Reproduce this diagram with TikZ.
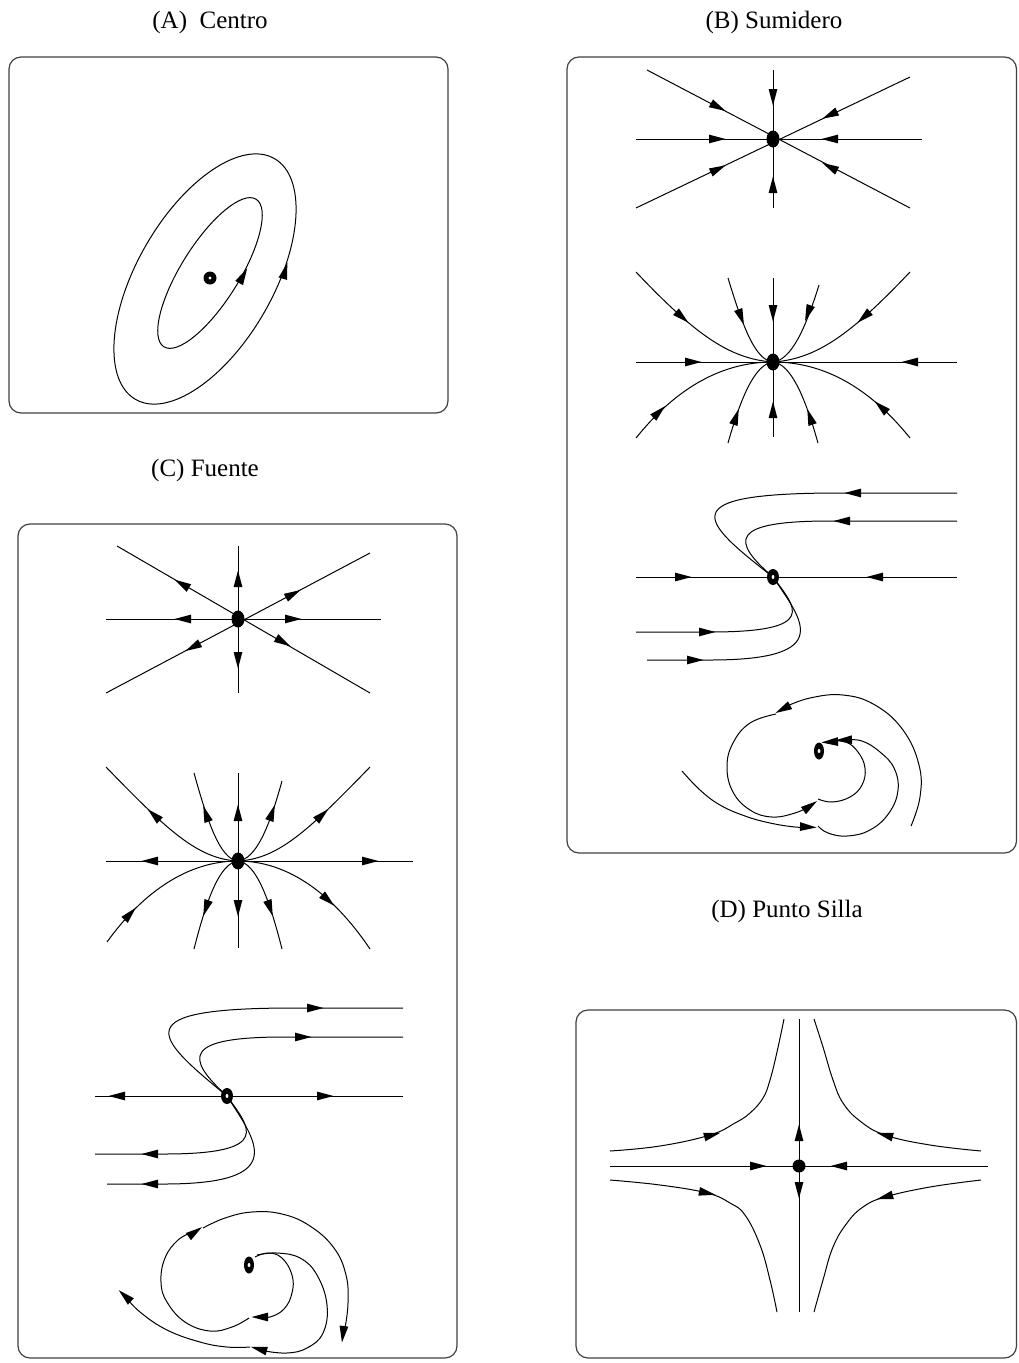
\documentclass[tikz,border=0pt]{standalone}
\usepackage{fontspec}
\setmainfont{Liberation Serif}
\newcommand\ah[3]{\fill[shift={(#1,#2)},rotate=#3] (8.5,0) -- (-8,4.4) -- (-8,-4.4) -- cycle;}
\newcommand\ringdot[4]{\fill (#1,#2) ellipse [x radius=#3,y radius=#4];\fill[white] (#1,#2) ellipse [x radius=1.4,y radius=2];}
\begin{document}
\begin{tikzpicture}[x=1pt,y=-1pt,line width=1pt,
  panel/.style={draw=black!75,line width=1.2pt,rounded corners=12pt},
  ttl/.style={font=\fontsize{25}{30}\selectfont,anchor=center}]
\useasboundingbox (0,0) rectangle (1018,1363);
% titles
\node[ttl] (tA) at (210,22) {(A)\ \ Centro};
\node[ttl] (tB) at (774,22) {(B) Sumidero};
\node[ttl] (tC) at (205,470) {(C) Fuente};
\node[ttl] (tD) at (787,911) {(D) Punto Silla};
% panels
\draw[panel] (9,57) rectangle (448,413);
\draw[panel] (567,57) rectangle (1016.5,853);
\draw[panel] (18,524) rectangle (457,1358);
\draw[panel] (576,1010) rectangle (1016.5,1358);

% ---------- A: centro
\begin{scope}[shift={(205,279)},rotate=60]
  \draw (0,0) ellipse [x radius=139,y radius=68];
\end{scope}
\begin{scope}[shift={(210,273)},rotate=58]
  \draw (0,0) ellipse [x radius=87,y radius=29];
\end{scope}
\ah{243}{276}{61}
\ah{285}{271}{74}
\fill (210,278) circle (6.5);
\fill[white] (210,278) circle (1.6);

% ---------- B1: star sink
\draw (773,70) -- (773,208);
\draw (636,139) -- (922,139);
\draw (647,70) -- (910,208);
\draw (636,208) -- (910,77);
\ah{718}{107}{-27.7}
\ah{773}{97}{270}
\ah{830}{115}{205.6}
\ah{717}{139}{0}
\ah{830}{139}{180}
\ah{718}{169}{25.6}
\ah{773}{185}{90}
\ah{830}{167}{152.3}
\fill (773,139) ellipse [x radius=6.5,y radius=8.5];

% ---------- B2: node sink
\draw (636,362) -- (957,362);
\draw (773,278) -- (773,437);
\begin{scope}[shift={(773,362)}]
\draw (-137,-90) .. controls (-80,-30) and (-45,-3) .. (0,0);
\draw (137,-90) .. controls (80,-30) and (45,-3) .. (0,0);
\draw (-45,-84) .. controls (-30,-35) and (-18,-2) .. (0,0);
\draw (46,-77) .. controls (32,-32) and (18,-2) .. (0,0);
\draw (-137,76) .. controls (-100,30) and (-55,0) .. (0,0);
\draw (137,76) .. controls (100,30) and (55,0) .. (0,0);
\draw (-45,81) .. controls (-32,35) and (-18,2) .. (0,0);
\draw (45,81) .. controls (32,35) and (18,2) .. (0,0);
\end{scope}
\ah{682}{317}{-41.3}
\ah{864}{317}{221.3}
\ah{741}{317}{-69.8}
\ah{808}{313}{249.8}
\ah{773}{313}{270}
\ah{693}{362}{0}
\ah{910}{362}{180}
\ah{659}{412}{44}
\ah{881}{407}{138}
\ah{736}{417}{71.4}
\ah{810}{417}{108.6}
\ah{773}{410}{90}
\fill (773,362) ellipse [x radius=6.5,y radius=8.5];

% ---------- B3: degenerate sink
\begin{scope}[shift={(773,577)}]
\draw (-137,0) -- (184,0);
\draw (184,-84) -- (67,-84) .. controls (-103,-84) and (-73,-57) .. (0,0);
\draw (184,-56) -- (57,-56) .. controls (-43,-56) and (-43,-37) .. (0,0);
\draw (-137,55) -- (-63,55) .. controls (48,55) and (22,30) .. (0,0);
\draw (-126,83) -- (-63,83) .. controls (65,83) and (28,42) .. (0,0);
\end{scope}
\ah{683}{577}{0}
\ah{875}{577}{180}
\ah{853}{493}{180}
\ah{842}{521}{180}
\ah{707}{632}{0}
\ah{695}{660}{0}
\ringdot{773}{577}{6}{8}

% ---------- B4: spiral sink
\draw plot[smooth,tension=.7] coordinates {(911,826) (920,797) (919,765) (903,730) (875,705) (843,695) (810,698) (785,707)};
\ah{783}{709}{208}
\draw plot[smooth,tension=.7] coordinates {(776,714) (750,723) (733,743) (727,767) (733,792) (750,810) (772,817) (795,813) (810,806)};
\ah{810}{806}{35}
\draw plot[smooth,tension=.7] coordinates {(818,799) (832,802) (850,797) (862,785) (865,768) (858,752) (846,742) (832,741)};
\ah{830}{742}{183}
\draw plot[smooth,tension=.7] coordinates {(682,771) (700,790) (720,805) (745,816) (770,823) (795,827) (808,827)};
\ah{808}{827}{-3}
\draw plot[smooth,tension=.7] coordinates {(818,826) (828,833) (847,836) (870,830) (889,813) (898,790) (894,768) (880,752) (862,741) (845,740)};
\ah{844}{740}{182}
\ringdot{819}{751}{5}{8.5}

% ---------- C1: star source
\draw (238,546) -- (238,693);
\draw (106,619) -- (381,619);
\draw (117,546) -- (370,693);
\draw (106,693) -- (370,553);
\ah{182}{584}{149.8}
\ah{238}{579}{90}
\ah{293}{594}{27.9}
\ah{183}{619}{180}
\ah{293}{619}{0}
\ah{193}{647}{207.9}
\ah{238}{660}{270}
\ah{283}{642}{-30.2}
\fill (238,619) ellipse [x radius=6.5,y radius=8.5];

% ---------- C2: node source
\draw (106,861) -- (413,861);
\draw (238,773) -- (238,948);
\begin{scope}[shift={(238,861)}]
\draw (-132,-94) .. controls (-70,-30) and (-40,-2) .. (0,0);
\draw (132,-94) .. controls (70,-30) and (40,-2) .. (0,0);
\draw (-44,-88) .. controls (-30,-38) and (-18,-2) .. (0,0);
\draw (44,-80) .. controls (31,-33) and (18,-2) .. (0,0);
\draw (-131,81) .. controls (-95,31) and (-50,0) .. (0,0);
\draw (132,88) .. controls (95,33) and (50,0) .. (0,0);
\draw (-44,88) .. controls (-31,37) and (-18,2) .. (0,0);
\draw (44,88) .. controls (31,37) and (18,2) .. (0,0);
\end{scope}
\ah{154}{815}{137}
\ah{322}{815}{43}
\ah{206}{814}{108.7}
\ah{272}{813}{71}
\ah{238}{813}{90}
\ah{150}{861}{180}
\ah{370}{861}{0}
\ah{130}{914}{47}
\ah{328}{900}{-42}
\ah{206}{908}{251.3}
\ah{270}{908}{288.7}
\ah{238}{908}{270}
\fill (238,861) ellipse [x radius=6.5,y radius=8.5];

% ---------- C3: degenerate source
\begin{scope}[shift={(227,1096)}]
\draw (-132,0) -- (176,0);
\draw (176,-88) -- (67,-88) .. controls (-103,-88) and (-73,-60) .. (0,0);
\draw (176,-59) -- (57,-59) .. controls (-43,-59) and (-43,-39) .. (0,0);
\draw (-132,58) -- (-63,58) .. controls (48,58) and (22,31) .. (0,0);
\draw (-120,88) -- (-63,88) .. controls (65,88) and (28,44) .. (0,0);
\end{scope}
\ah{117}{1096}{180}
\ah{325}{1096}{0}
\ah{315}{1008}{0}
\ah{303}{1037}{0}
\ah{150}{1154}{180}
\ah{150}{1184}{180}
\ringdot{227}{1096}{6}{8}

% ---------- C4: spiral source
\draw plot[smooth,tension=.7] coordinates {(255,1257) (268,1253) (282,1258) (292,1275) (292,1293) (284,1309) (270,1317) (258,1317)};
\ah{260}{1317}{180}
\draw plot[smooth,tension=.7] coordinates {(249,1318) (232,1327) (210,1331) (185,1322) (167,1302) (161,1282) (165,1258) (178,1240) (193,1232)};
\ah{195}{1232}{35}
\draw plot[smooth,tension=.7] coordinates {(203,1228) (225,1218) (252,1212) (282,1214) (310,1226) (334,1248) (346,1275) (348,1303) (345,1328)};
\ah{343}{1334}{263}
\draw plot[smooth,tension=.7] coordinates {(257,1255) (277,1253) (300,1258) (317,1275) (327,1305) (323,1333) (307,1348) (287,1353) (265,1351)};
\ah{259}{1349}{165}
\draw plot[smooth,tension=.7] coordinates {(250,1347) (227,1347) (200,1342) (167,1330) (140,1312) (125,1296)};
\ah{125}{1296}{137}
\ringdot{249}{1265}{5}{8.5}

% ---------- D: saddle
\draw (610,1166) -- (988,1166);
\draw (799,1019) -- (799,1312);
\draw plot[smooth,tension=.7] coordinates {(610,1151) (660,1146) (710,1135) (735,1123) (750,1113) (763,1098) (770,1080) (777,1052) (784,1019)};
\draw plot[smooth,tension=.7] coordinates {(981,1151) (930,1145) (885,1135) (860,1121) (843,1103) (833,1080) (823,1047) (814,1019)};
\draw plot[smooth,tension=.7] coordinates {(610,1180) (660,1185) (707,1193) (730,1203) (745,1215) (760,1245) (770,1280) (777,1312)};
\draw plot[smooth,tension=.7] coordinates {(981,1180) (930,1187) (885,1197) (863,1207) (847,1223) (833,1247) (823,1280) (814,1312)};
\ah{758}{1166}{0}
\ah{839}{1166}{180}
\ah{799}{1133}{90}
\ah{799}{1190}{270}
\ah{712}{1135}{15}
\ah{885}{1135}{165}
\ah{707}{1193}{-12}
\ah{885}{1197}{195}
\fill (799,1166) circle (6.5);
\end{tikzpicture}
\end{document}
